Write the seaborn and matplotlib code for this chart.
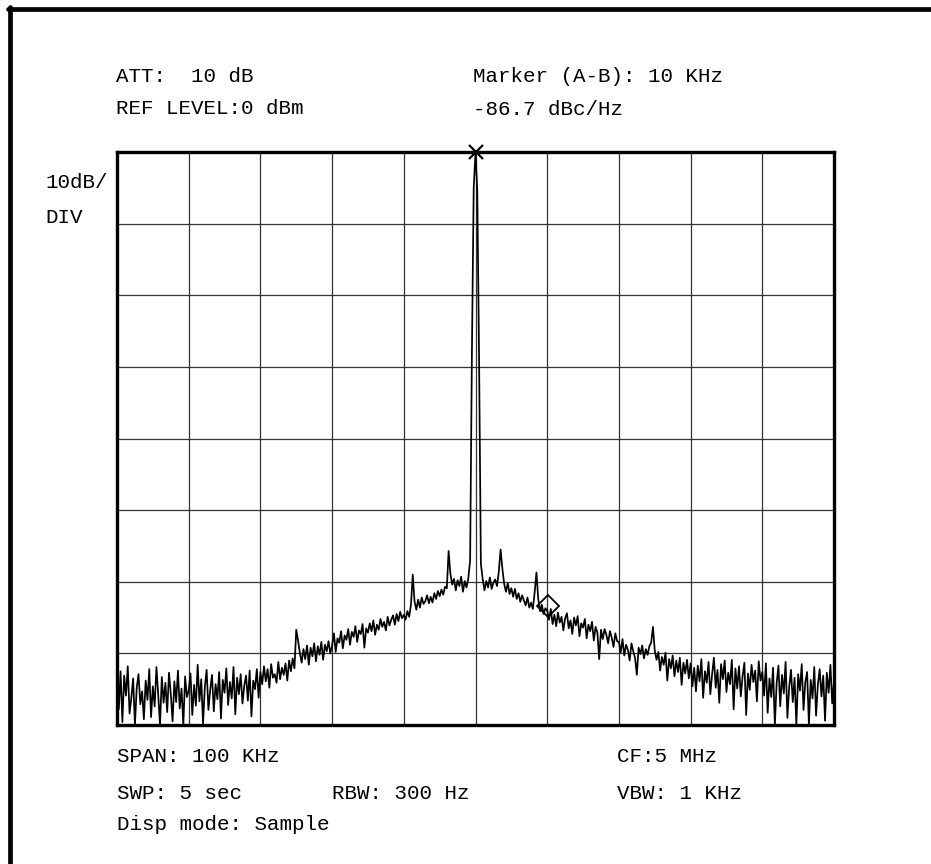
import numpy as np
import matplotlib
matplotlib.use('Agg')
import matplotlib.pyplot as plt
import seaborn as sns
from matplotlib.lines import Line2D

# sweep: 401 points over the 100 KHz span, offsets from CF in KHz
span_khz = 100
n_points = 401
freq_khz = np.linspace(-span_khz / 2, span_khz / 2, n_points)

# trace readings in dBm, one list per 10 KHz division (left to right)
div1 = [-74.2, -77.8, -72.5, -79.6, -73.1, -75.9, -71.8, -78.4, -76.2, -73.5,
        -80.0, -74.8, -72.9, -77.1, -75.3, -79.2, -73.8, -76.5, -72.2, -78.9,
        -74.6, -77.4, -71.9, -75.8, -80.0, -73.3, -76.9, -74.1, -78.2, -72.7,
        -75.6, -79.5, -73.9, -76.8, -72.4, -77.7, -74.9, -80.0, -73.2, -76.1]
div2 = [-75.2, -72.8, -78.6, -74.4, -77.3, -71.6, -76.7, -73.6, -79.8, -74.7,
        -72.3, -77.9, -75.1, -73.0, -78.1, -74.3, -76.4, -72.6, -79.1, -73.7,
        -75.5, -72.1, -77.2, -74.0, -76.3, -71.9, -78.5, -73.4, -75.7, -72.9,
        -77.0, -74.5, -73.1, -76.6, -72.4, -78.8, -73.8, -75.0, -72.2, -76.2]
div3 = [-72.6, -74.3, -71.8, -73.9, -72.2, -74.8, -71.5, -73.4, -72.9, -74.1,
        -71.2, -73.6, -72.0, -73.0, -71.4, -73.8, -71.0, -72.5, -70.7, -72.1,
        -66.7, -68.2, -69.9, -71.3, -69.4, -70.8, -68.9, -71.6, -69.2, -70.4,
        -68.6, -71.1, -69.0, -70.2, -68.4, -70.9, -68.8, -69.7, -68.3, -70.0]
div4 = [-68.9, -67.2, -69.8, -67.9, -68.5, -66.9, -69.3, -67.5, -68.1, -66.6,
        -68.8, -67.0, -67.7, -66.2, -68.4, -66.8, -67.3, -65.9, -69.2, -66.5,
        -67.1, -65.8, -66.9, -65.4, -67.4, -66.0, -66.7, -65.2, -66.3, -65.6,
        -66.8, -64.9, -66.1, -65.3, -64.7, -66.0, -64.5, -65.5, -64.2, -65.1]
div5 = [-64.6, -65.3, -64.1, -64.9, -63.2, -59.0, -62.8, -63.9, -62.5, -63.6,
        -62.2, -63.1, -62.7, -61.9, -63.0, -62.1, -62.9, -61.6, -62.4, -61.3,
        -62.0, -61.1, -61.8, -60.7, -60.9, -55.7, -58.9, -60.4, -59.6, -61.2,
        -59.8, -60.6, -59.3, -61.4, -59.9, -60.8, -59.5, -57.0, -28.0, -5.0]
div6 = [0.0, -5.5, -29.0, -57.5, -59.6, -61.2, -59.9, -60.8, -59.4, -61.0,
        -60.1, -59.7, -60.6, -58.6, -55.5, -58.2, -60.3, -61.4, -60.2, -61.7,
        -60.9, -62.1, -61.0, -62.4, -61.6, -62.8, -61.9, -62.6, -63.3, -62.2,
        -63.6, -62.9, -63.8, -61.5, -58.7, -62.4, -64.1, -63.2, -64.5, -63.7]
div7 = [-64.0, -65.3, -63.8, -65.9, -64.6, -66.2, -64.3, -65.7, -64.9, -66.8,
        -65.1, -64.4, -66.5, -65.4, -67.3, -65.0, -66.1, -64.8, -67.6, -65.8,
        -66.4, -65.2, -67.9, -66.0, -66.9, -65.6, -68.2, -66.3, -67.1, -70.8,
        -66.7, -68.0, -66.6, -67.4, -68.6, -66.9, -67.8, -69.1, -67.2, -68.3]
div8 = [-68.4, -69.9, -68.0, -70.3, -68.8, -69.5, -71.0, -68.6, -69.7, -70.6,
        -73.0, -69.2, -70.1, -68.9, -70.7, -69.4, -70.2, -69.0, -68.5, -66.3,
        -69.6, -70.9, -69.8, -72.4, -70.5, -71.6, -69.9, -73.8, -70.8, -72.1,
        -70.3, -73.2, -71.0, -72.6, -70.6, -74.4, -71.3, -72.8, -70.9, -73.5]
div9 = [-71.4, -74.6, -72.0, -75.3, -71.7, -73.9, -70.8, -76.2, -72.5, -74.1,
        -71.2, -75.7, -72.9, -70.6, -74.8, -72.3, -76.9, -71.5, -73.6, -71.0,
        -75.4, -72.7, -74.3, -70.9, -77.8, -72.1, -74.9, -71.8, -76.0, -73.2,
        -71.3, -78.6, -72.8, -75.1, -71.6, -74.0, -72.4, -76.7, -71.1, -73.8]
div10 = [-72.6, -75.9, -71.4, -78.3, -73.5, -76.1, -72.0, -80.0, -74.2, -71.7,
         -77.4, -73.0, -75.6, -71.2, -79.0, -74.7, -72.3, -76.8, -73.4, -80.0,
         -72.9, -75.2, -71.5, -77.9, -74.0, -72.6, -80.0, -73.7, -76.3, -71.9,
         -78.7, -74.4, -72.2, -76.0, -73.1, -79.4, -72.7, -75.5, -71.6, -77.0,
         -73.9]
level_dbm = np.array(div1 + div2 + div3 + div4 + div5 + div6 + div7 + div8 + div9 + div10)

# markers A (carrier peak) and B (10 KHz offset)
marker_a = (0.0, 0.0)
marker_b = (10.1, -63.45)

ref_level = 0
db_per_div = 10

W, H = 931, 864


def px(x, y):
    # pixel position -> figure fraction
    return x / W, 1 - y / H


sns.set_theme(style='white')
plt.rcParams['font.family'] = ['Liberation Mono', 'DejaVu Sans Mono']

fig = plt.figure(figsize=(W / 100, H / 100), dpi=100)
ax = fig.add_axes([117 / W, (H - 725) / H, 717 / W, 573 / H])

sns.lineplot(x=freq_khz, y=level_dbm, ax=ax, color='black', linewidth=1.25,
             estimator=None, sort=False)

ax.plot(*marker_a, marker='x', ms=10, mew=1.6, color='black', clip_on=False)
ax.plot(*marker_b, marker='D', ms=11, mfc='none', mec='black', mew=1.3)

ax.set_xlim(-span_khz / 2, span_khz / 2)
ax.set_ylim(ref_level - 8 * db_per_div, ref_level)
ax.set_xticks(np.arange(-50, 51, 10))
ax.set_yticks(np.arange(-80, 1, 10))
ax.tick_params(length=0, labelbottom=False, labelleft=False)
ax.grid(True, color='0.2', linewidth=0.9)
ax.set_xlabel('')
ax.set_ylabel('')
for s in ax.spines.values():
    s.set_visible(True)
    s.set_linewidth(2.4)
    s.set_color('black')

# outer frame (top and left edges only)
fig.add_artist(Line2D([8 / W, 1], [1 - 8.5 / H] * 2, transform=fig.transFigure,
                      lw=3.4, color='black'))
fig.add_artist(Line2D([10 / W] * 2, [0, 1 - 6.5 / H], transform=fig.transFigure,
                      lw=3.4, color='black'))

labels = [
    ('ATT:  10 dB', 116, 82),
    ('REF LEVEL:0 dBm', 116, 114),
    ('Marker (A-B): 10 KHz', 473, 82),
    ('-86.7 dBc/Hz', 473, 115),
    ('10dB/', 45, 188),
    ('DIV', 45, 223),
    ('SPAN: 100 KHz', 117, 762),
    ('SWP: 5 sec', 117, 799),
    ('RBW: 300 Hz', 332, 799),
    ('CF:5 MHz', 617, 762),
    ('VBW: 1 KHz', 617, 799),
    ('Disp mode: Sample', 117, 830),
]
for txt, x, y in labels:
    fig.text(*px(x, y), txt, fontsize=15, color='black', ha='left', va='baseline')

fig.savefig('out.png', dpi=100)
